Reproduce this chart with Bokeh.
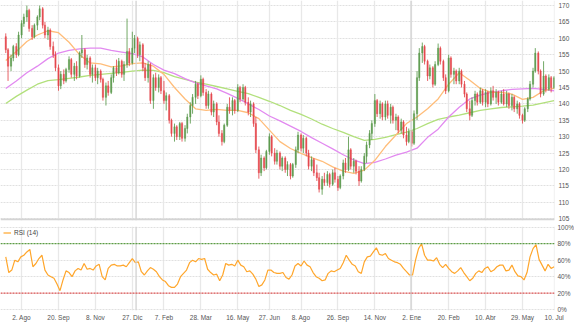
import numpy as np
import pandas as pd
from bokeh.plotting import figure
from bokeh.layouts import column
from bokeh.models import Range1d, FixedTicker, Span, Legend, LegendItem, ColumnDataSource, Grid
from bokeh.embed import file_html
from bokeh.resources import INLINE

# ---------------- data ----------------
open_ = [160.5, 156.5, 151.5, 154, 157.5, 155, 161, 164.5, 166.5, 168.5,
         163, 160.5, 164, 166.5, 169, 164, 161, 162.5, 157.5, 155,
         151, 145.5, 149, 147, 150.5, 153.5, 149, 151.5, 148.5, 155.5,
         156.5, 152, 154, 149, 151, 148, 150, 147.5, 142, 145.5,
         143.5, 148, 151, 149.5, 153, 149, 152, 156, 152.5, 157,
         160, 155, 158, 151, 148, 152, 141, 148, 145, 148,
         144, 141, 142.5, 135, 131, 133, 130, 134, 129.5, 132.5,
         136, 139.5, 142, 146, 142.5, 147.5, 143.5, 139.5, 143, 137.5,
         140, 134.5, 131, 128.5, 133.5, 139, 138, 141, 138, 145,
         141.5, 145, 140.5, 137.5, 140, 134, 126, 119, 123.5, 120.5,
         125.5, 130, 125, 122.5, 125, 121, 123.5, 120, 121.5, 118,
         121.5, 126, 130.5, 126.5, 129.5, 125, 121, 123, 119, 117.5,
         114, 117, 116, 118.5, 115.5, 119, 117, 114.5, 118, 122,
         120, 126, 121, 122.5, 119.5, 116.5, 120, 124, 127.5, 131,
         134, 141, 137, 140, 136, 140, 136.5, 139, 135, 136,
         132, 134.5, 130.5, 128.5, 131.5, 128, 137, 148, 155.5, 157.5,
         153, 148.5, 151, 146, 152, 157, 153, 148, 144, 154,
         149, 150, 147, 150, 146, 143, 138.5, 136.5, 141, 143,
         140.5, 144, 140.5, 143.5, 140, 144, 142, 143.5, 140.5, 143,
         140, 143, 139.5, 142, 138.5, 140, 136.5, 135, 138.5, 141.5,
         146, 150, 155.5, 150, 143, 148.5, 144.5, 148, 145]
high = [161.5, 157, 155, 158, 158.5, 162, 165.5, 167.5, 170, 169,
        164, 164.5, 167, 170, 169.5, 165, 163.5, 163, 159, 156,
        152, 150, 150.5, 151, 154.5, 154, 152.5, 153, 156, 161,
        157, 155, 154.5, 152, 152, 151, 150.5, 148, 146.5, 147,
        149, 151.5, 153.5, 154, 153.5, 153, 166, 157, 162, 161,
        160.5, 159, 158.5, 152.5, 153, 152.5, 149, 149.5, 149, 148.5,
        147, 143.5, 143, 135.5, 134, 133.5, 134.5, 134.5, 133.5, 137,
        140.5, 143, 147, 146.5, 148.7, 148, 144.5, 144, 143.5, 141,
        140.5, 136.5, 132, 134, 140, 142, 142, 141.5, 146, 145.5,
        146, 145.5, 142, 141, 140.5, 136, 127, 124.5, 124, 126,
        131, 130.5, 126.5, 126, 125.5, 124, 124, 122.5, 122, 122,
        127, 131.5, 131, 130.5, 130, 126, 124, 123.5, 121.5, 119,
        118, 119, 119.5, 119, 120, 120.5, 118, 118.5, 123, 123.5,
        130, 126.5, 123.5, 123, 121, 121, 125, 128.5, 132, 135,
        143, 141.5, 141, 140.5, 141, 141, 140, 139.5, 137, 136.5,
        135.5, 135, 133, 132.5, 132, 138, 150, 157, 158.7, 158,
        153.5, 152, 151.5, 153, 158.4, 157.5, 153.5, 149, 155, 154.5,
        151, 150.5, 151, 150.5, 147, 143.5, 141, 142, 144, 143.5,
        145, 144.5, 144.5, 144, 145, 145.5, 144.5, 144, 144, 144.5,
        144, 143.5, 143, 142.5, 141, 140.5, 137, 139, 142, 147,
        151, 157, 156, 150.5, 153, 149, 149, 148.5, 148.5]
low = [155.5, 147, 150, 153, 154, 154.5, 160, 163.5, 165, 162,
       159.5, 160, 162.5, 165.5, 163, 160, 159.5, 156.5, 154, 150,
       144, 144.5, 146, 146.5, 149.5, 148, 147, 147.5, 148, 154,
       151, 150.5, 148, 146.5, 147, 146, 146.5, 141, 139.5, 142.5,
       143, 146.5, 148.5, 149, 148, 147, 151, 151.5, 152, 155.5,
       154, 153, 150, 147, 146.5, 140, 138.5, 144, 143.5, 143,
       140, 138, 134, 130, 128.5, 129, 129, 128.5, 128.5, 131,
       134, 137, 140, 141.5, 142, 142.5, 138.5, 138.5, 136.5, 136,
       133.5, 130, 127.3, 128, 133, 137, 136.5, 137, 137.5, 140.5,
       141, 139.5, 136.5, 136, 133, 125, 117.2, 118, 119.5, 120,
       124.5, 124, 121.5, 121.5, 120, 119.5, 119, 118, 117, 117.5,
       120.5, 125, 125.5, 125, 124, 120, 119.5, 118, 116.5, 113,
       112.3, 115, 115, 114.5, 115, 116, 113.5, 114, 117, 119,
       119.5, 120, 119, 118.5, 115, 116, 119.5, 122, 126.5, 129,
       133, 136, 135.5, 135, 135, 135.5, 134, 134, 132, 131,
       131, 129.5, 127.3, 128, 127, 127.5, 135, 147, 152.5, 152,
       147, 147.5, 145, 145.5, 151.5, 152, 147, 143, 143.5, 148,
       146, 146, 146, 145, 142, 137.5, 135, 136, 139.5, 139.5,
       140, 139.5, 139, 139, 139.5, 141, 140, 139.5, 140, 139.5,
       139, 138.5, 138, 137.5, 137, 135.5, 134, 134.5, 137.5, 141,
       145, 149.5, 149, 142, 142.5, 143.5, 144, 143.5, 144.5]
close = [156.5, 151.5, 154, 157.5, 155, 161, 164.5, 166.5, 168.5, 163,
         160.5, 164, 166.5, 169, 164, 161, 162.5, 157.5, 155, 151,
         145.5, 149, 147, 150.5, 153.5, 149, 151.5, 148.5, 155.5, 156.5,
         152, 154, 149, 151, 148, 150, 147.5, 142, 145.5, 143.5,
         148, 151, 149.5, 153, 149, 152, 156, 152.5, 157, 160,
         155, 158, 151, 148, 152, 141, 148, 145, 148, 144,
         141, 142.5, 135, 131, 133, 130, 134, 129.5, 132.5, 136,
         139.5, 142, 146, 142.5, 147.5, 143.5, 139.5, 143, 137.5, 140,
         134.5, 131, 128.5, 133.5, 139, 138, 141, 138, 145, 141.5,
         145, 140.5, 137.5, 140, 134, 126, 119, 123.5, 120.5, 125.5,
         130, 125, 122.5, 125, 121, 123.5, 120, 121.5, 118, 121.5,
         126, 130.5, 126.5, 129.5, 125, 121, 123, 119, 117.5, 114,
         117, 116, 118.5, 115.5, 119, 117, 114.5, 118, 122, 120,
         126, 121, 122.5, 119.5, 116.5, 120, 124, 127.5, 131, 134,
         141, 137, 140, 136, 140, 136.5, 139, 135, 136, 132,
         134.5, 130.5, 128.5, 131.5, 128, 137, 148, 155.5, 157.5, 153,
         148.5, 151, 146, 152, 157, 153, 148, 144, 154, 149,
         150, 147, 150, 146, 143, 138.5, 136.5, 141, 143, 140.5,
         144, 140.5, 143.5, 140, 144, 142, 143.5, 140.5, 143, 140,
         143, 139.5, 142, 138.5, 140, 136.5, 135, 138.5, 141.5, 146,
         150, 155.5, 150, 143, 148.5, 144.5, 148, 145, 148]

# moving averages, sampled every second Monday
ma_orange = [153.2, 156, 159, 161, 162.3, 161.7, 158.8, 155, 152.5, 152.2,
             151.3, 151.6, 152.3, 152.5, 151.5, 149, 145, 141.5, 138.5, 138,
             138.3, 138, 138, 137.3, 135.5, 132, 128.5, 126.4, 124.9, 123.6,
             122.5, 120.8, 119.5, 118.8, 119.8, 122.8, 127, 130.5, 134, 136,
             138.5, 141.5, 146, 149.5, 147.2, 144.7, 143.5, 143.5, 143, 141.4,
             142, 144, 144.8]
ma_purple = [144.7, 147, 149.5, 151.5, 153.8, 155.5, 156.3, 156.8, 157, 157,
             156.3, 155.8, 155.3, 154.3, 152, 150.3, 149.2, 147.7, 146.4, 145.5,
             144.6, 143.2, 141.7, 140, 138.3, 136.3, 134.8, 133.2, 131.6, 129.7,
             128, 126.3, 124.5, 122.9, 121.8, 122.2, 123.2, 124.4, 125.3, 126.5,
             129.8, 132.3, 136, 139, 141.5, 142.7, 143.5, 144, 144.4, 144.6,
             144.7, 144.4, 144]
ma_green = [140.1, 142.3, 144.2, 146, 147.1, 147.4, 147.8, 148.2, 148.7, 149,
            149.3, 149.6, 150, 150.3, 150.2, 149.5, 148.3, 147.5, 146.6, 146,
            145.3, 144.6, 143.8, 143.1, 142, 140.8, 139.5, 138, 136.8, 135.4,
            133.8, 132.5, 131.3, 130, 128.9, 129.2, 129.8, 130.6, 131.4, 132.5,
            134, 135.3, 136, 136.6, 137.3, 138, 138.5, 138.9, 139.1, 139.3,
            139.6, 140.3, 141]

# RSI (14), sampled every 4 days
rsi = [64, 45, 48, 60, 58, 64, 66, 70, 73, 52,
       56, 62, 66, 48, 42, 40, 38, 31, 23, 36,
       47, 45, 40, 47, 50, 48, 56, 49, 50, 48,
       53, 55, 40, 36, 50, 54, 55, 53, 53, 54,
       52, 57, 62, 57, 58, 46, 42, 47, 51, 49,
       46, 40, 36, 34, 29, 27, 27, 31, 40, 44,
       48, 57, 60, 58, 62, 61, 62, 49, 45, 42,
       43, 35, 42, 56, 54, 55, 53, 60, 54, 52,
       46, 47, 43, 37, 28, 30, 36, 48, 48, 45,
       44, 44, 45, 39, 37, 42, 53, 56, 53, 59,
       54, 52, 45, 40, 38, 35, 36, 44, 47, 46,
       48, 50, 57, 66, 60, 55, 53, 46, 44, 58,
       64, 65, 70, 75, 67, 66, 68, 62, 60, 58,
       57, 55, 50, 46, 42, 42, 60, 74, 80, 66,
       60, 60, 59, 63, 55, 51, 55, 50, 46, 44,
       47, 51, 45, 40, 35, 38, 44, 47, 45, 50,
       52, 46, 48, 52, 54, 54, 47, 48, 54, 46,
       41, 40, 36, 45, 64, 74, 79, 61, 54, 47,
       55, 50, 52]

tick_dates = ["2021-08-02", "2021-09-20", "2021-11-08", "2021-12-27", "2022-02-07",
              "2022-03-28", "2022-05-16", "2022-06-27", "2022-08-08", "2022-09-26",
              "2022-11-14", "2023-01-02", "2023-02-20", "2023-04-10", "2023-05-29",
              "2023-07-10"]
tick_labels = ["2. Ago", "20. Sep", "8. Nov", "27. Dic", "7. Feb", "28. Mar", "16. May",
               "27. Jun", "8. Ago", "26. Sep", "14. Nov", "2. Ene", "20. Feb", "10. Abr",
               "29. May", "10. Jul"]
year_lines = ["2022-01-01", "2023-01-01"]
price_ticks = list(range(105, 171, 5))
rsi_ticks = [0, 20, 40, 60, 80, 100]
rsi_labels = ["0%", "20%", "40%", "60%", "80%", "100%"]


def to_ms(d):
    return pd.DatetimeIndex(pd.to_datetime(d)).values.astype("datetime64[ms]").astype(np.int64).astype(float)


DAY = 86400000.0
mondays = pd.date_range("2021-07-12", "2023-07-10", freq="W-MON")
thursdays = pd.date_range("2021-07-15", "2023-07-06", freq="W-THU")
cdates = mondays.union(thursdays)
n = min(len(cdates), len(close))
cx = to_ms(cdates)[:n]
o = np.array(open_[:n]); h = np.array(high[:n]); l = np.array(low[:n]); c = np.array(close[:n])
up = c >= o
GREEN = "#5b9a4c"
RED = "#e4474b"
colors = [GREEN if u else RED for u in up]
src = ColumnDataSource(dict(x=cx, o=o, h=h, l=l, c=c, top=np.maximum(o, c), bot=np.minimum(o, c), col=colors))

ma_x = to_ms(mondays[::2])
rsi_x = to_ms(pd.date_range("2021-07-12", periods=len(rsi), freq="4D"))

tick_ms = [int(v) for v in to_ms(tick_dates)]
xr = Range1d(to_ms(["2021-07-05"])[0], to_ms(["2023-07-10 12:00"])[0])

FONT = "Liberation Sans"
LBL = "#555555"
HGRID = "#e0e0e0"
VGRID = "#e8e8e8"
FS = "6.5px"


def style_axis(ax, standoff):
    ax.axis_line_color = None
    ax.major_tick_line_color = None
    ax.minor_tick_line_color = None
    ax.major_tick_out = 0
    ax.major_tick_in = 0
    ax.minor_tick_out = 0
    ax.minor_tick_in = 0
    ax.major_label_text_font_size = FS
    ax.major_label_text_color = LBL
    ax.major_label_text_font = FONT
    ax.major_label_standoff = standoff


# ---------------- main price panel ----------------
p = figure(frame_width=554, frame_height=220, x_range=xr, y_range=Range1d(104.45, 171.52),
           x_axis_location=None, y_axis_location="right",
           output_backend="svg", toolbar_location=None,
           min_border_left=0, min_border_right=20, min_border_top=0, min_border_bottom=2)
p.outline_line_color = None
p.background_fill_color = "white"
p.border_fill_color = "white"
p.xgrid.visible = False
p.ygrid.ticker = FixedTicker(ticks=price_ticks)
p.ygrid.grid_line_color = HGRID
p.ygrid.grid_line_dash = "2 1"
p.add_layout(Grid(dimension=0, ticker=FixedTicker(ticks=tick_ms), grid_line_color=VGRID, grid_line_width=1.3))
for yl in to_ms(year_lines):
    p.add_layout(Span(location=yl, dimension="height", line_color="#d2d2d2", line_width=1.3))
p.add_layout(Span(location=104.75, dimension="width", line_color="#d4d4d4", line_width=2))

p.yaxis.ticker = FixedTicker(ticks=price_ticks)
for ax in p.yaxis:
    style_axis(ax, 4)

p.line(ma_x[:len(ma_green)], ma_green[:len(ma_x)], line_color="#b2e07c", line_width=1.3)
p.line(ma_x[:len(ma_purple)], ma_purple[:len(ma_x)], line_color="#e28af0", line_width=1.3)
p.line(ma_x[:len(ma_orange)], ma_orange[:len(ma_x)], line_color="#ffbd7a", line_width=1.3)

p.segment(x0="x", y0="h", x1="x", y1="l", line_color="col", line_width=1, line_alpha=0.85, source=src)
p.vbar(x="x", width=1.7 * DAY, top="top", bottom="bot", fill_color="col", line_color="col",
       line_width=0.5, fill_alpha=0.85, line_alpha=0.85, source=src)

# ---------------- RSI panel ----------------
r = figure(frame_width=554, frame_height=84, x_range=xr, y_range=Range1d(-1.1, 100.9),
           y_axis_location="right", output_backend="svg", toolbar_location=None,
           min_border_left=0, min_border_right=20, min_border_top=4, min_border_bottom=14)
r.outline_line_color = None
r.xgrid.ticker = FixedTicker(ticks=tick_ms)
r.xgrid.grid_line_color = VGRID
r.xgrid.grid_line_width = 1.3
r.ygrid.ticker = FixedTicker(ticks=rsi_ticks)
r.ygrid.grid_line_color = HGRID
r.ygrid.grid_line_dash = "2 1"
for yl in to_ms(year_lines):
    r.add_layout(Span(location=yl, dimension="height", line_color="#d2d2d2", line_width=1.3))
r.add_layout(Span(location=80, dimension="width", line_color="#5d9e44", line_width=1.2, line_dash="2 1"))
r.add_layout(Span(location=20, dimension="width", line_color="#e05555", line_width=1.2, line_dash="2 1"))

r.yaxis.ticker = FixedTicker(ticks=rsi_ticks)
r.yaxis.major_label_overrides = dict(zip(rsi_ticks, rsi_labels))
r.xaxis.ticker = FixedTicker(ticks=tick_ms)
r.xaxis.major_label_overrides = dict(zip(tick_ms, tick_labels))
for ax in r.yaxis:
    style_axis(ax, 3)
for ax in r.xaxis:
    style_axis(ax, 3)

m = min(len(rsi_x), len(rsi))
rl = r.line(rsi_x[:m], rsi[:m], line_color="#ffa62b", line_width=1.2)
leg = Legend(items=[LegendItem(label="RSI (14)", renderers=[rl])], location="top_left",
             label_text_font_size=FS, label_text_color="#444444", label_text_font=FONT,
             glyph_width=8, glyph_height=7, label_height=7, label_standoff=3,
             padding=1, margin=2, spacing=0, background_fill_alpha=0, border_line_alpha=0)
r.add_layout(leg)

layout = column(p, r, spacing=0)
open("out.html", "w").write(file_html(layout, INLINE))
